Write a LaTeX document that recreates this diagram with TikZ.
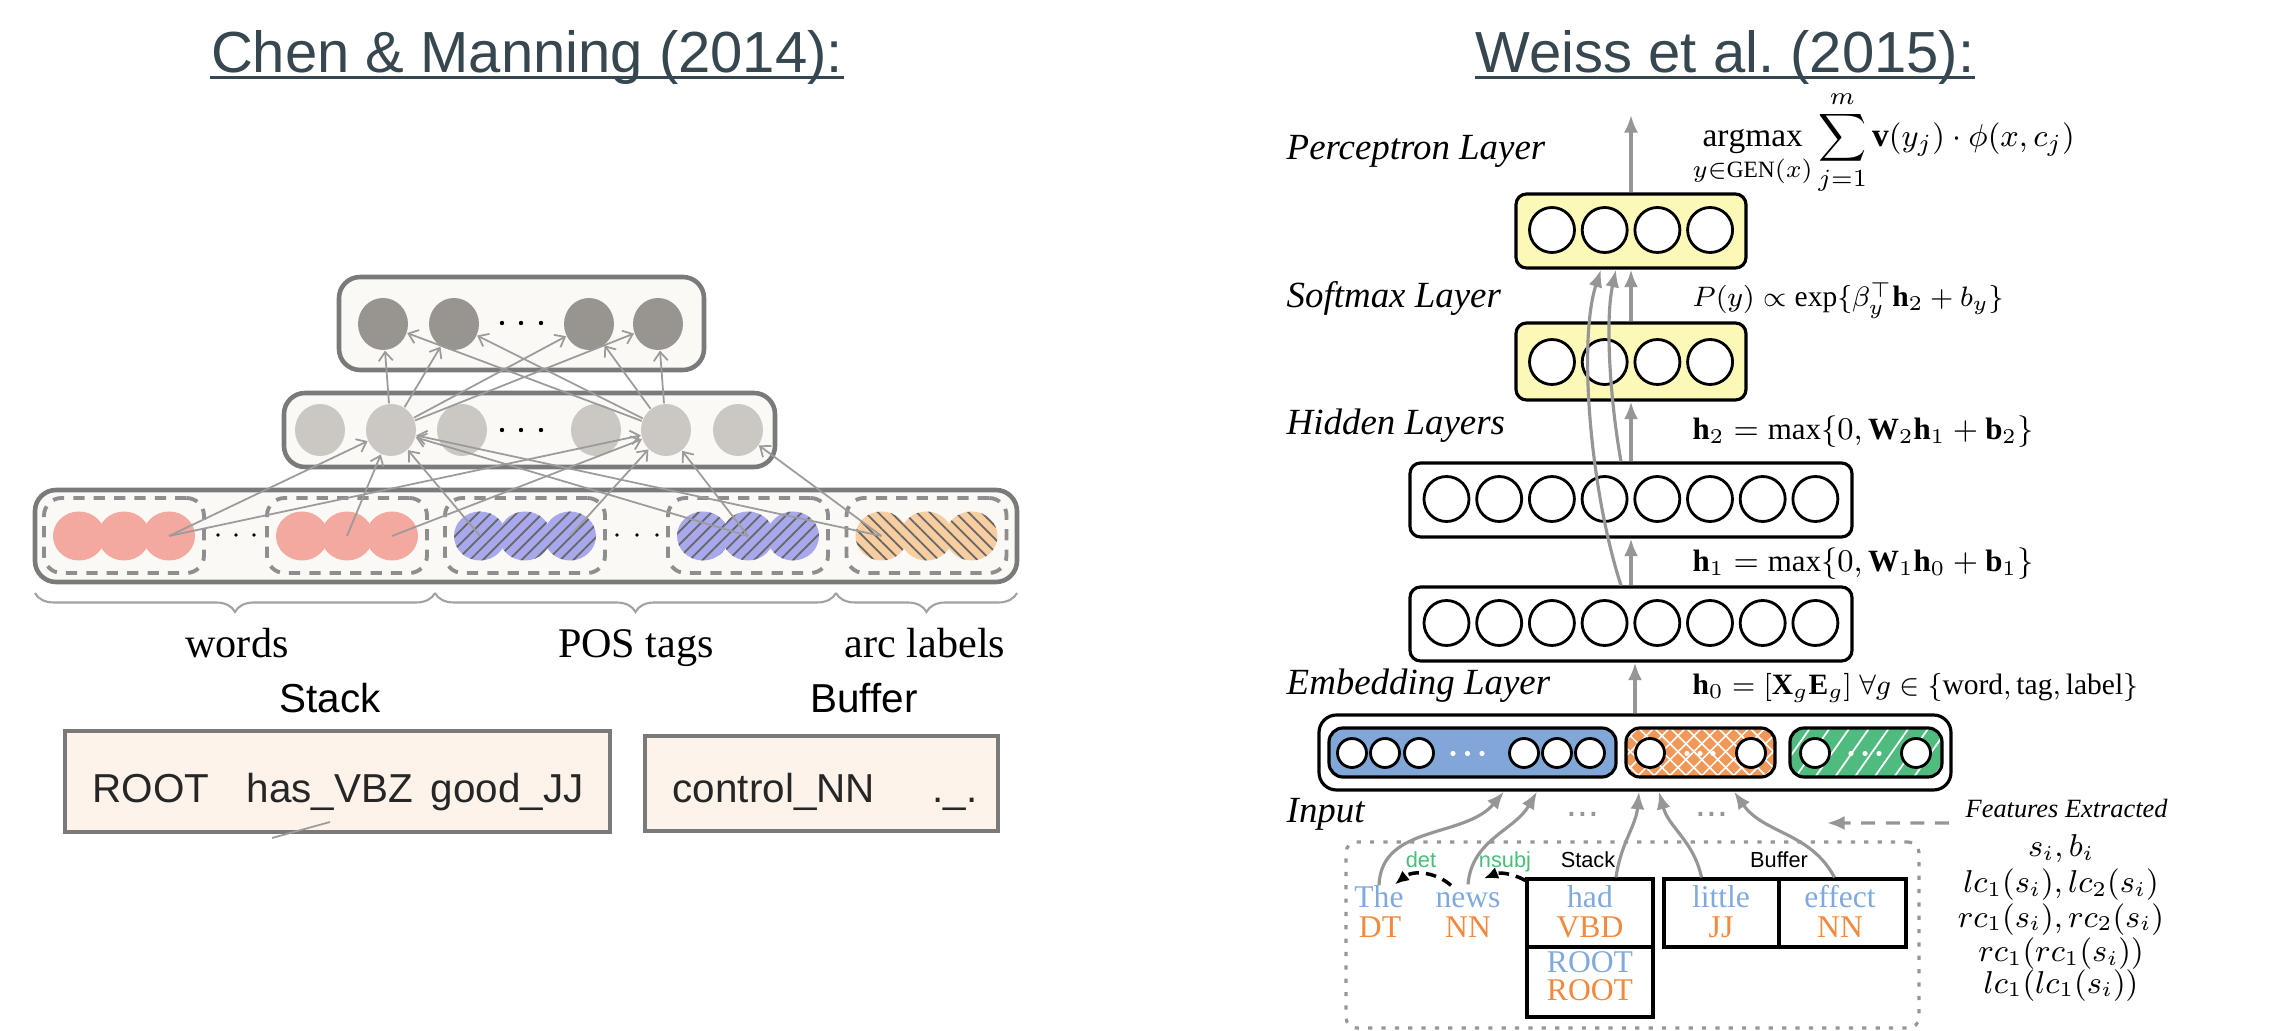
\documentclass[tikz,border=0pt]{standalone}
\usepackage{amsmath}
\usepackage{amssymb}
\usepackage{fontspec}
\setmainfont{Liberation Serif}
\setsansfont{Liberation Sans}
\usetikzlibrary{shapes.geometric,arrows.meta,patterns.meta,decorations.pathreplacing}

\definecolor{titlegray}{RGB}{55,71,79}
\definecolor{cmline}{RGB}{122,122,122}
\definecolor{cmfill}{RGB}{251,249,245}
\definecolor{cmdark}{RGB}{152,148,143}
\definecolor{cmlight}{RGB}{203,200,196}
\definecolor{cmpink}{RGB}{243,168,160}
\definecolor{cmblue}{RGB}{168,168,236}
\definecolor{cmorange}{RGB}{248,205,160}
\definecolor{cmpeach}{RGB}{253,243,234}
\definecolor{cmarrow}{RGB}{155,155,155}
\definecolor{wyellow}{RGB}{251,248,184}
\definecolor{wblue}{RGB}{128,167,216}
\definecolor{worange}{RGB}{240,152,88}
\definecolor{wgreen}{RGB}{80,187,127}
\definecolor{txtblue}{RGB}{128,170,222}
\definecolor{txtorange}{RGB}{241,138,62}
\definecolor{txtgreen}{RGB}{72,190,120}
\definecolor{warrow}{RGB}{150,150,150}

\begin{document}
\begin{tikzpicture}[
    title/.style={font=\sffamily\fontsize{16.5}{20}\selectfont, text=titlegray, anchor=base, inner sep=0pt},
    cmbox/.style={draw=cmline, line width=1.3pt, fill=cmfill, rounded corners=6pt, inner sep=0pt},
    cmgroup/.style={draw=cmline!85, line width=1.1pt, dash pattern=on 3.2pt off 2.6pt, rounded corners=5pt, minimum width=1.6cm, minimum height=0.75cm, inner sep=0pt},
    cmunit/.style={ellipse, minimum width=0.5cm, minimum height=0.52cm, inner sep=0pt},
    inunit/.style={ellipse, minimum width=0.52cm, minimum height=0.49cm, inner sep=0pt},
    inpink/.style={inunit, fill=cmpink},
    inblue/.style={inunit, preaction={fill=cmblue}, pattern={Lines[angle=45,distance=2.6pt,line width=0.5pt]}, pattern color=black!60},
    inorange/.style={inunit, preaction={fill=cmorange}, pattern={Lines[angle=-45,distance=2.6pt,line width=0.5pt]}, pattern color=black!60},
    cmedge/.style={draw=cmarrow, line width=0.5pt, -{Straight Barb[length=2.5pt,width=4pt]}},
    cmbrace/.style={draw=cmline!70, line width=0.6pt, decorate, decoration={brace, mirror, amplitude=5.4pt}},
    cmlabel/.style={font=\fontsize{12}{14}\selectfont, anchor=base, inner sep=0pt},
    cmhead/.style={font=\sffamily\fontsize{11.5}{14}\selectfont, anchor=base, inner sep=0pt},
    cmtok/.style={font=\sffamily\fontsize{11.5}{14}\selectfont, text=black!85, anchor=base west, inner sep=0pt},
    wbox/.style={draw, line width=0.9pt, rounded corners=3pt, inner sep=0pt},
    wunit/.style={circle, draw, fill=white, line width=0.8pt, minimum size=0.45cm, inner sep=0pt},
    wsmall/.style={circle, draw, fill=white, line width=0.8pt, minimum size=0.29cm, inner sep=0pt},
    wedge/.style={draw=warrow, line width=0.9pt, -{Latex[length=5pt,width=4pt]}},
    depedge/.style={draw=black, line width=1pt, dash pattern=on 3pt off 2pt, -{Latex[length=4pt,width=3.5pt]}},
    layername/.style={font=\fontsize{10.5}{12}\selectfont\itshape, anchor=base west, inner sep=0pt},
    eqn/.style={font=\fontsize{8.8}{10}\selectfont, anchor=base west, inner sep=0pt},
    feq/.style={font=\fontsize{8.6}{10}\selectfont, anchor=base, inner sep=0pt},
    stk/.style={draw, line width=0.9pt, inner sep=0pt},
    word/.style={font=\fontsize{9}{10}\selectfont, text=txtblue, anchor=base, inner sep=0pt},
    tag/.style={font=\fontsize{9}{10}\selectfont, text=txtorange, anchor=base, inner sep=0pt},
    small/.style={font=\sffamily\fontsize{6.2}{7}\selectfont, anchor=base, inner sep=0pt}
  ]
  \useasboundingbox (0,0) rectangle (22.88,10.30);

  % titles
  \node[title] (cmtitle) at (5.27,9.57) {Chen \& Manning (2014):};
  \node[title] (wtitle) at (17.25,9.57) {Weiss et al.\ (2015):};
  \draw[titlegray, line width=0.9pt] ([yshift=-1.3pt]cmtitle.base west) -- ([yshift=-1.3pt]cmtitle.base east);
  \draw[titlegray, line width=0.9pt] ([yshift=-1.3pt]wtitle.base west) -- ([yshift=-1.3pt]wtitle.base east);

  % Chen & Manning network
  \node[cmbox, minimum width=3.65cm, minimum height=0.93cm] (outbox) at (5.215,7.065) {};
  \node[cmbox, minimum width=4.91cm, minimum height=0.74cm] (hidbox) at (5.295,6.00) {};
  \node[cmbox, minimum width=9.82cm, minimum height=0.92cm] (inbox) at (5.26,4.94) {};
  \foreach \x [count=\i] in {3.83,4.54,5.89,6.58}
    \node[cmunit, fill=cmdark] (out\i) at (\x,7.06) {};
  \foreach \x [count=\i] in {3.20,3.91,4.62,5.96,6.66,7.38}
    \node[cmunit, fill=cmlight] (hid\i) at (\x,6.00) {};
  \foreach \x in {5.02,5.21,5.41} {
    \fill (\x,7.07) circle (0.022);
    \fill (\x,6.00) circle (0.022);
  }
  \foreach \g/\cx in {1/1.24,2/3.47} {
    \node[cmgroup] (grp\g) at (\cx,4.945) {};
    \foreach \dx [count=\c] in {-0.45,0,0.45}
      \node[inpink] (in\g\c) at (\cx+\dx,4.94) {};
  }
  \foreach \g/\cx in {3/5.25,4/7.48} {
    \node[cmgroup] (grp\g) at (\cx,4.945) {};
    \foreach \dx [count=\c] in {-0.45,0,0.45}
      \node[inblue] (in\g\c) at (\cx+\dx,4.94) {};
  }
  \node[cmgroup] (grp5) at (9.265,4.945) {};
  \foreach \dx [count=\c] in {-0.45,0,0.45}
    \node[inorange] (in5\c) at (9.265+\dx,4.94) {};
  \foreach \x in {2.18,2.36,2.54,6.17,6.37,6.57}
    \fill (\x,4.95) circle (0.018);

  \foreach \src/\dst in {in13/hid2,in13/hid5,in22/hid2,in23/hid5,in31/hid2,in33/hid5,in42/hid2,in42/hid5,in51/hid2,in51/hid6}
    \draw[cmedge] (\src.center) -- (\dst);
  \foreach \i in {1,...,4} {
    \draw[cmedge] (hid2) -- (out\i);
    \draw[cmedge] (hid5) -- (out\i);
  }

  \draw[cmbrace] (0.35,4.37) -- (4.35,4.37);
  \draw[cmbrace] (4.35,4.37) -- (8.36,4.37);
  \draw[cmbrace] (8.36,4.37) -- (10.17,4.37);
  \node[cmlabel] (lwords) at (2.37,3.72) {words};
  \node[cmlabel] (lpos) at (6.36,3.72) {POS tags};
  \node[cmlabel] (larc) at (9.25,3.72) {arc labels};

  % stack and buffer
  \node[cmhead] (lstack) at (3.30,3.17) {Stack};
  \node[cmhead] (lbuffer) at (8.64,3.17) {Buffer};
  \node[draw=cmline, line width=1.3pt, fill=cmpeach, minimum width=5.45cm, minimum height=1.01cm] (stackbox) at (3.375,2.485) {};
  \node[draw=cmline, line width=1.3pt, fill=cmpeach, minimum width=3.53cm, minimum height=0.95cm] (bufbox) at (8.215,2.465) {};
  \node[cmtok] (troot) at (0.92,2.27) {ROOT};
  \node[cmtok] (thas) at (2.46,2.27) {has\_VBZ};
  \node[cmtok] (tgood) at (4.30,2.27) {good\_JJ};
  \node[cmtok] (tcontrol) at (6.72,2.27) {control\_NN};
  \node[cmtok] (tmore) at (9.32,2.27) {.\_.};
  \draw[cmarrow, line width=0.5pt] (2.72,1.92) -- (3.30,2.08);

  % Weiss et al. network
  \node[wbox, fill=wyellow, minimum width=2.30cm, minimum height=0.74cm] (percbox) at (16.31,7.99) {};
  \node[wbox, fill=wyellow, minimum width=2.30cm, minimum height=0.77cm] (softbox) at (16.31,6.685) {};
  \node[wbox, minimum width=4.42cm, minimum height=0.74cm] (hidbbox) at (16.31,5.30) {};
  \node[wbox, minimum width=4.42cm, minimum height=0.74cm] (hidabox) at (16.31,4.06) {};
  \foreach \i in {1,...,4} {
    \node[wunit] (perc\i) at ({15.52+(\i-1)*0.527},8.00) {};
    \node[wunit] (soft\i) at ({15.52+(\i-1)*0.527},6.68) {};
  }
  \foreach \i in {1,...,8} {
    \node[wunit] (hidb\i) at ({14.465+(\i-1)*0.527},5.31) {};
    \node[wunit] (hida\i) at ({14.465+(\i-1)*0.527},4.07) {};
  }

  \node[wbox, fill=white, rounded corners=5pt, minimum width=6.32cm, minimum height=0.75cm] (embbox) at (16.35,2.775) {};
  \node[wbox, fill=wblue, rounded corners=4pt, minimum width=2.87cm, minimum height=0.49cm] (wordbox) at (14.725,2.775) {};
  \node[wbox, rounded corners=4pt, preaction={fill=worange}, pattern={Hatch[angle=45,distance=3.2pt,line width=0.45pt]}, pattern color=white, minimum width=1.49cm, minimum height=0.49cm] (tagbox) at (17.005,2.775) {};
  \node[wbox, rounded corners=4pt, preaction={fill=wgreen}, pattern={Lines[angle=55,distance=4.6pt,line width=0.5pt]}, pattern color=white, minimum width=1.52cm, minimum height=0.49cm] (labelbox) at (18.66,2.775) {};
  \foreach \x [count=\i] in {13.52,13.85,14.19,15.24,15.57,15.90}
    \node[wsmall] (ew\i) at (\x,2.77) {};
  \node[wsmall] (et1) at (16.50,2.77) {};
  \node[wsmall] (et2) at (17.51,2.77) {};
  \node[wsmall] (el1) at (18.15,2.77) {};
  \node[wsmall] (el2) at (19.16,2.77) {};
  \foreach \x in {14.53,14.675,14.82,16.87,17.00,17.13,18.51,18.65,18.79}
    \fill[white] (\x,2.765) circle (0.026);

  \coordinate (outtop) at (16.31,9.15);
  \draw[wedge] (percbox.north) -- (outtop);
  \draw[wedge] (softbox.north) -- (percbox.south);
  \draw[wedge] ([xshift=-0.1cm]hidbbox.north) .. controls (16.1,6.3) and (16.05,7.1) .. ([xshift=-0.15cm]percbox.south);
  \draw[wedge] ([xshift=-0.1cm]hidabox.north) .. controls (15.9,5.4) and (15.78,6.9) .. ([xshift=-0.30cm]percbox.south);
  \draw[wedge] (hidbbox.north) -- (softbox.south);
  \draw[wedge] (hidabox.north) -- (hidbbox.south);
  \draw[wedge] (embbox.north) -- (embbox.north |- hidabox.south);

  \node[layername] (lperc) at (12.86,8.70) {Perceptron Layer};
  \node[layername] (lsoft) at (12.86,7.22) {Softmax Layer};
  \node[layername] (lhid) at (12.86,5.95) {Hidden Layers};
  \node[layername] (lemb) at (12.86,3.35) {Embedding Layer};
  \node[layername] (linput) at (12.86,2.07) {Input};

  \node[eqn, anchor=west, font=\fontsize{9.5}{11}\selectfont] (eqperc) at (16.92,8.87) {$\displaystyle\operatorname*{argmax}_{y\in\mathrm{GEN}(x)}\sum_{j=1}^{m}\mathbf{v}(y_j)\cdot\phi(x,c_j)$};
  \node[eqn, font=\fontsize{8.4}{10}\selectfont] (eqsoft) at (16.92,7.23) {$P(y)\propto\exp\{\beta_y^{\top}\mathbf{h}_2+b_y\}$};
  \node[eqn] (eqhb) at (16.92,5.90) {$\mathbf{h}_2=\max\{0,\mathbf{W}_2\mathbf{h}_1+\mathbf{b}_2\}$};
  \node[eqn] (eqha) at (16.92,4.58) {$\mathbf{h}_1=\max\{0,\mathbf{W}_1\mathbf{h}_0+\mathbf{b}_1\}$};
  \node[eqn, font=\fontsize{8.4}{10}\selectfont] (eqemb) at (16.92,3.35) {$\mathbf{h}_0=[\mathbf{X}_g\mathbf{E}_g]\ \forall g\in\{\mathrm{word},\mathrm{tag},\mathrm{label}\}$};

  % parser configuration
  \node[draw=warrow, line width=0.9pt, dash pattern=on 1.2pt off 2.6pt, rounded corners=3pt, minimum width=5.73cm, minimum height=1.86cm] (config) at (16.325,0.95) {};
  \node[stk, minimum width=1.26cm, minimum height=0.68cm] (hadbox) at (15.90,1.17) {};
  \node[stk, minimum width=1.26cm, minimum height=0.70cm] (rootbox) at (15.90,0.48) {};
  \node[stk, minimum width=1.15cm, minimum height=0.68cm] (litbox) at (17.215,1.17) {};
  \node[stk, minimum width=1.27cm, minimum height=0.68cm] (effbox) at (18.425,1.17) {};

  \node[word] (the) at (13.79,1.22) {The};
  \node[tag] (dt) at (13.80,0.93) {DT};
  \node[word] (news) at (14.68,1.22) {news};
  \node[tag] (nn) at (14.68,0.93) {NN};
  \node[word] (had) at (15.90,1.22) {had};
  \node[tag] (vbd) at (15.90,0.93) {VBD};
  \node[word] (root) at (15.90,0.58) {ROOT};
  \node[tag] (roottag) at (15.90,0.30) {ROOT};
  \node[word] (little) at (17.21,1.22) {little};
  \node[tag] (jj) at (17.21,0.93) {JJ};
  \node[word] (effect) at (18.40,1.22) {effect};
  \node[tag] (nneff) at (18.40,0.93) {NN};

  \node[small, text=txtgreen] (det) at (14.21,1.62) {det};
  \node[small, text=txtgreen] (nsubj) at (15.05,1.62) {nsubj};
  \node[small] (wstack) at (15.88,1.62) {Stack};
  \node[small] (wbuffer) at (17.79,1.62) {Buffer};

  \draw[depedge] ([xshift=-0.17cm,yshift=0.07cm]news.north) to[bend right=40] ([xshift=0.16cm,yshift=0.01cm]the.north);
  \draw[depedge] ([yshift=-0.03cm]hadbox.north west) to[bend right=25] ([xshift=0.16cm,yshift=0.14cm]news.north);

  \draw[wedge] (the.north) to[out=88,in=-130] ([xshift=-1.31cm]embbox.south);
  \draw[wedge] ([yshift=0.08cm]news.north) to[out=85,in=-120] ([xshift=-0.98cm]embbox.south);
  \draw[wedge] ([xshift=0.26cm]hadbox.north) to[out=82,in=-95] ([xshift=0.04cm]embbox.south);
  \draw[wedge] ([xshift=-0.2cm]litbox.north) to[out=102,in=-75] ([xshift=0.24cm]embbox.south);
  \draw[wedge] ([xshift=-0.08cm]effbox.north) to[out=118,in=-55] ([xshift=0.99cm]embbox.south);

  \node[text=warrow, font=\sffamily\fontsize{11}{13}\selectfont] (moreA) at (15.83,2.16) {...};
  \node[text=warrow, font=\sffamily\fontsize{11}{13}\selectfont] (moreB) at (17.12,2.16) {...};

  \node[layername, font=\fontsize{7.5}{9}\selectfont\itshape] (feat) at (19.65,2.12) {Features Extracted};
  \coordinate (featend) at (18.27,2.07);
  \draw[wedge, dash pattern=on 4pt off 3pt] ([xshift=-0.16cm,yshift=-0.05cm]feat.base west) -- (featend);
  \node[feq] (fa) at (20.61,1.73) {$s_i, b_i$};
  \node[feq] (fb) at (20.61,1.37) {$lc_1(s_i), lc_2(s_i)$};
  \node[feq] (fc) at (20.61,1.03) {$rc_1(s_i), rc_2(s_i)$};
  \node[feq] (fd) at (20.61,0.68) {$rc_1(rc_1(s_i))$};
  \node[feq] (fe) at (20.61,0.37) {$lc_1(lc_1(s_i))$};
\end{tikzpicture}
\end{document}
